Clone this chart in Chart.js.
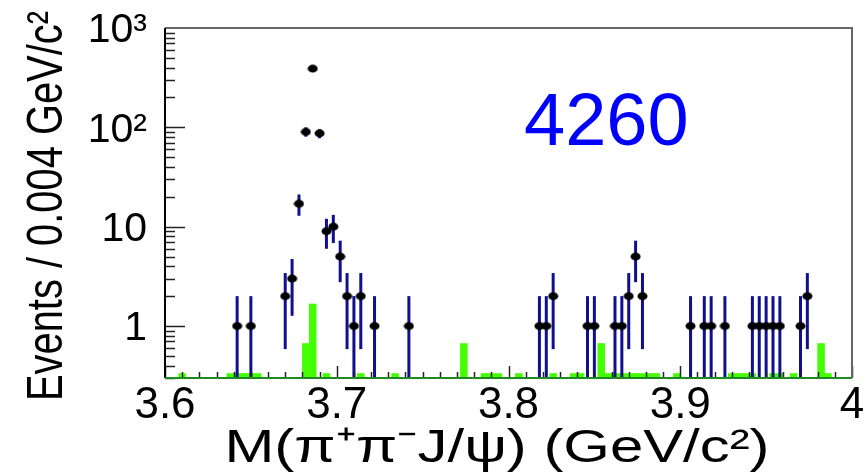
<!DOCTYPE html>
<html lang="en">
<head>
  <meta charset="UTF-8">
  <title>M(π+π-J/ψ) at 4260</title>
  <script src="https://cdn.jsdelivr.net/npm/chart.js"></script>
  <style>
    html, body { margin: 0; padding: 0; background: #fff; }
  </style>
</head>
<body>
  <canvas id="chartMass" width="866" height="474"></canvas>

  <script>
    // data: bin centres (GeV/c^2, 0.004 bins) and event counts
    const massBins = [3.642, 3.650, 3.670, 3.674, 3.678, 3.682, 3.686, 3.690, 3.694, 3.698,
                      3.702, 3.706, 3.710, 3.714, 3.722, 3.742, 3.818, 3.822, 3.826, 3.846,
                      3.850, 3.862, 3.866, 3.870, 3.874, 3.878, 3.906, 3.914, 3.918, 3.926,
                      3.942, 3.946, 3.950, 3.954, 3.958, 3.970, 3.974];
    const counts   = [1, 1, 2, 3, 17, 90, 390, 87, 9, 10,
                      5, 2, 1, 2, 1, 1, 1, 1, 2, 1,
                      1, 1, 1, 2, 5, 2, 1, 1, 1, 1,
                      1, 1, 1, 1, 1, 1, 2];

    // green histogram (sideband, scaled)
    const bkgBins   = [3.610, 3.638, 3.642, 3.646, 3.650, 3.654, 3.682, 3.686, 3.694, 3.714,
                       3.734, 3.774, 3.786, 3.790, 3.794, 3.806, 3.826, 3.838, 3.842, 3.854,
                       3.858, 3.862, 3.866, 3.870, 3.874, 3.878, 3.882, 3.886, 3.898, 3.930,
                       3.934, 3.938, 3.942, 3.954, 3.958, 3.966, 3.982, 3.986];
    const bkgCounts = [0.333, 0.333, 0.333, 0.333, 0.333, 0.333, 0.667, 1.667, 0.333, 0.333,
                       0.333, 0.667, 0.333, 0.333, 0.333, 0.333, 0.333, 0.333, 0.333, 0.667,
                       0.333, 0.333, 0.333, 0.333, 0.333, 0.333, 0.333, 0.333, 0.333, 0.333,
                       0.333, 0.333, 0.333, 0.333, 0.333, 0.333, 0.667, 0.333];

    const xTicks = [3.6, 3.7, 3.8, 3.9, 4.0];
    const yTicks = [1, 10, 100, 1000];
    const yTickLabels = ['1', '10', '10²', '10³'];
    const xTitle = 'M(π⁺π⁻J/ψ) (GeV/c²)';
    const yTitle = 'Events / 0.004 GeV/c²';
    const energyLabel = '4260';

    const FONT = "'Liberation Sans', Arial, Helvetica, sans-serif";
    const GREEN = '#44ff00';
    const ERR_BLUE = '#10108f';

    // elliptical black marker like the ROOT markers
    const dot = document.createElement('canvas');
    dot.width = 11; dot.height = 9;
    const dctx = dot.getContext('2d');
    dctx.fillStyle = '#000';
    dctx.beginPath();
    dctx.ellipse(5.5, 4.5, 5, 3.9, 0, 0, Math.PI * 2);
    dctx.fill();

    function drawErrors(chart) {
      const { ctx, chartArea: a, scales: { x, y } } = chart;
      ctx.save();
      ctx.beginPath();
      ctx.rect(a.left, a.top, a.right - a.left, a.bottom - a.top);
      ctx.clip();
      ctx.strokeStyle = ERR_BLUE;
      ctx.lineWidth = 3;
      massBins.forEach((m, i) => {
        const n = counts[i];
        const e = Math.sqrt(n);
        const px = x.getPixelForValue(m);
        const top = y.getPixelForValue(n + e);
        const bot = n - e > 0 ? y.getPixelForValue(n - e) : a.bottom;
        ctx.beginPath();
        ctx.moveTo(px, top);
        ctx.lineTo(px, bot);
        ctx.stroke();
      });
      ctx.restore();
    }

    // text drawn wide, like the stretched ROOT canvas
    function wideText(ctx, text, size, cx, cy, length, stretch, rotate) {
      ctx.save();
      ctx.font = size + 'px ' + FONT;
      ctx.textAlign = 'center';
      ctx.textBaseline = 'alphabetic';
      const w = ctx.measureText(text).width;
      ctx.translate(cx, cy);
      if (rotate) ctx.rotate(-Math.PI / 2);
      ctx.scale(length / w, stretch);
      ctx.fillStyle = '#000';
      ctx.fillText(text, 0, 0);
      ctx.restore();
    }

    const rootFrame = {
      id: 'rootFrame',
      afterDatasetDraw(chart, args) {
        if (args.index === 0) drawErrors(chart);
      },
      afterDraw(chart) {
        const { ctx, chartArea: a, scales: { x, y } } = chart;
        ctx.save();

        // ticks on x (inside, pointing up)
        ctx.strokeStyle = '#222';
        ctx.lineWidth = 1.5;
        for (let i = 0; i <= 40; i++) {
          const v = 3.6 + i * 0.01;
          const px = Math.round(x.getPixelForValue(v)) + 0.5;
          const len = i % 10 === 0 ? 12 : 6;
          ctx.beginPath();
          ctx.moveTo(px, a.bottom);
          ctx.lineTo(px, a.bottom - len);
          ctx.stroke();
        }

        // ticks on y (inside, pointing right)
        [0.1, 1, 10, 100].forEach(d => {
          for (let m = 1; m <= 9; m++) {
            const v = m * d;
            if (v < 0.3 || v > 1000) continue;
            const py = Math.round(y.getPixelForValue(v)) + 0.5;
            const len = m === 1 ? 20 : 10;
            ctx.beginPath();
            ctx.moveTo(a.left, py);
            ctx.lineTo(a.left + len, py);
            ctx.stroke();
          }
        });

        // frame
        ctx.lineWidth = 2;
        ctx.strokeStyle = '#666';
        ctx.beginPath();
        ctx.moveTo(a.left, a.top);
        ctx.lineTo(a.right, a.top);
        ctx.lineTo(a.right, a.bottom);
        ctx.stroke();
        ctx.strokeStyle = '#000';
        ctx.beginPath();
        ctx.moveTo(a.left, a.top);
        ctx.lineTo(a.left, a.bottom);
        ctx.stroke();
        ctx.strokeStyle = '#1f8a1f';
        ctx.beginPath();
        ctx.moveTo(a.left, a.bottom);
        ctx.lineTo(a.right, a.bottom);
        ctx.stroke();

        // axis titles
        wideText(ctx, xTitle, 47, 497, 462, 545, 1, false);
        wideText(ctx, yTitle, 39, 62, 206, 390, 1.3, true);

        // energy label
        ctx.fillStyle = '#0000ff';
        ctx.font = '74px ' + FONT;
        ctx.textAlign = 'left';
        ctx.textBaseline = 'alphabetic';
        ctx.fillText(energyLabel, 524, 145);
        ctx.restore();
      }
    };

    new Chart(document.getElementById('chartMass'), {
      type: 'scatter',
      data: {
        datasets: [
          {
            type: 'bar',
            label: 'sideband',
            data: bkgBins.map((m, i) => ({ x: m, y: bkgCounts[i] })),
            backgroundColor: GREEN,
            borderWidth: 0,
            barPercentage: 1,
            categoryPercentage: 1,
            order: 2
          },
          {
            type: 'scatter',
            label: 'data',
            data: massBins.map((m, i) => ({ x: m, y: counts[i] })),
            pointStyle: dot,
            pointRadius: 4,
            pointHoverRadius: 4,
            order: 1
          }
        ]
      },
      options: {
        responsive: false,
        animation: false,
        layout: { padding: { top: 28, right: 14, left: 0, bottom: 0 } },
        plugins: {
          legend: { display: false },
          tooltip: { enabled: false }
        },
        scales: {
          x: {
            type: 'linear',
            min: 3.6,
            max: 4.0,
            offset: false,
            afterBuildTicks: s => { s.ticks = xTicks.map(v => ({ value: v })); },
            ticks: {
              callback: v => String(+v.toFixed(1)),
              font: { family: FONT, size: 44 },
              color: '#000',
              padding: 1,
              maxRotation: 0,
              autoSkip: false
            },
            grid: { display: false, drawTicks: false, offset: false },
            border: { display: false },
            afterFit: s => { s.height = 96; s.paddingLeft = 0; s.paddingRight = 0; }
          },
          y: {
            type: 'logarithmic',
            min: 0.3,
            max: 1000,
            afterBuildTicks: s => { s.ticks = yTicks.map(v => ({ value: v })); },
            ticks: {
              callback: v => yTickLabels[yTicks.indexOf(v)],
              font: { family: FONT, size: 41 },
              color: '#000',
              padding: 18,
              labelOffset: 3,
              autoSkip: false
            },
            grid: { display: false, drawTicks: false },
            border: { display: false },
            afterFit: s => { s.width = 165; s.paddingTop = 0; s.paddingBottom = 0; }
          }
        }
      },
      plugins: [rootFrame]
    });
  </script>
</body>
</html>
